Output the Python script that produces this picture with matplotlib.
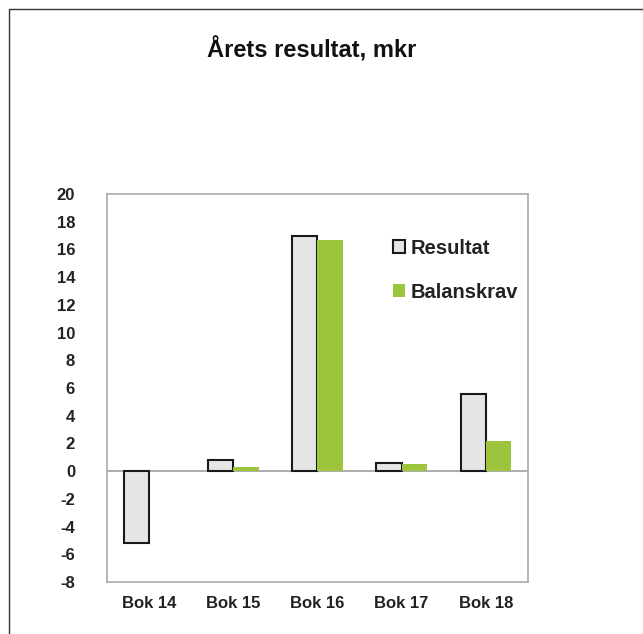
import matplotlib.pyplot as plt
import matplotlib.patches as mpatches
import numpy as np

plt.rcParams['font.family'] = ['Liberation Sans', 'DejaVu Sans']
plt.rcParams['axes.unicode_minus'] = False

categories = ['Bok 14', 'Bok 15', 'Bok 16', 'Bok 17', 'Bok 18']
resultat = [-5.2, 0.8, 17.0, 0.6, 5.6]
balanskrav = [None, 0.3, 16.7, 0.5, 2.2]
yticks = list(range(-8, 21, 2))

fig = plt.figure(figsize=(6.43, 6.34), dpi=100)
ax = fig.add_axes([0.1664, 0.082, 0.6547, 0.612])

x = np.arange(len(categories))
w = 0.3
ax.bar(x - w / 2, resultat, w, color='#e6e6e6', edgecolor='#1a1a1a',
       linewidth=1.5, label='Resultat', zorder=3)
bal = [np.nan if v is None else v for v in balanskrav]
ax.bar(x + w / 2, bal, w, color='#9cc43c', linewidth=0,
       label='Balanskrav', zorder=3)

ax.axhline(0, color='#a0a0a0', linewidth=1.2, zorder=2)
ax.set_xlim(-0.5, len(categories) - 0.5)
ax.set_ylim(-8, 20)
ax.set_yticks(yticks)
ax.set_yticklabels([str(t) for t in yticks], fontweight='bold')
ax.set_xticks(x)
ax.set_xticklabels(categories, fontweight='bold')
ax.tick_params(axis='y', length=0, pad=23, labelsize=12, labelcolor='#222222')
ax.tick_params(axis='x', length=0, pad=10, labelsize=12, labelcolor='#222222')
for s in ax.spines.values():
    s.set_color('#b0b0b0')
    s.set_linewidth(1.3)

ax.legend(loc='upper left', bbox_to_anchor=(0.66, 0.906), frameon=False,
          prop={'size': 14.5, 'weight': 'bold'}, handlelength=0.6,
          handleheight=0.6, handletextpad=0.3, labelspacing=1.25,
          borderaxespad=0, labelcolor='#222222')

fig.text(0.4845, 0.921, 'Årets resultat, mkr', ha='center', va='center',
         fontsize=17, fontweight='bold', color='#111111')

# outer frame
fig.patches.append(mpatches.Rectangle((9 / 643, -0.1), 1.2, 1 - 9 / 634 + 0.1,
                                      transform=fig.transFigure, fill=False,
                                      edgecolor='#333333', linewidth=1.0))

fig.savefig('out.png', dpi=100)
